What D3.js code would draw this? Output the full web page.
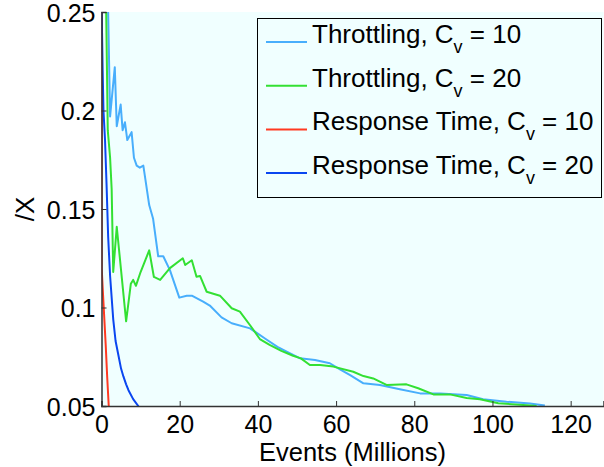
<!DOCTYPE html>
<html>
<head>
<meta charset="utf-8">
<script src="https://cdn.jsdelivr.net/npm/d3@7"></script>
<style>
  body { margin: 0; background: #fff; }
  text { font-family: "Liberation Sans", Arial, sans-serif; fill: #000; }
</style>
</head>
<body>
<div id="chart"></div>
<script>
// series: [events (millions), ratio]
var throttling10 = [[1.2,0.3],[1.7,0.25],[2.2,0.197],[3.4,0.222],[3.9,0.192],[4.9,0.203],[5.4,0.19],[6.0,0.194],
  [6.6,0.185],[7.7,0.189],[8.3,0.176],[9.0,0.172],[9.8,0.171],[10.7,0.172],[11.3,0.164],[12.2,0.152],[13.2,0.145],
  [14.5,0.126],[15.8,0.126],[17.5,0.119],[19.9,0.105],[21.8,0.106],[23.1,0.106],[26,0.103],[27.7,0.101],[30.7,0.095],
  [33.3,0.092],[38,0.0894],[42,0.084],[45,0.080],[48,0.077],[50.8,0.0742],[54.6,0.0733],[58.4,0.0717],[61,0.0686],
  [63.6,0.0657],[67,0.0615],[71.2,0.0607],[76.3,0.0585],[81.5,0.0564],[86.6,0.0564],[93.4,0.0556],[97.6,0.0534],
  [103.6,0.0522],[109.6,0.0513],[113.4,0.0502]];
var throttling20 = [[0.9,0.27],[1.2,0.25],[1.6,0.19],[2.2,0.176],[2.6,0.16],[3.0,0.118],[3.9,0.141],[6.3,0.093],
  [7.5,0.112],[8.1,0.114],[8.8,0.111],[10,0.118],[12.2,0.129],[13.4,0.1155],[15,0.114],[17.5,0.12],[20.8,0.125],
  [21.4,0.1216],[23.1,0.124],[24.3,0.1156],[25.2,0.116],[26.9,0.108],[30.3,0.106],[33.3,0.0996],[35.4,0.0979],
  [38,0.091],[40.5,0.084],[43,0.081],[46,0.078],[49,0.0755],[51,0.0742],[53.3,0.0708],[55.9,0.0708],[59.3,0.07],
  [64.4,0.0674],[67,0.0652],[69.5,0.064],[72.9,0.0607],[78,0.061],[81,0.059],[84.9,0.0559],[89.1,0.0559],
  [93.4,0.0541],[96.8,0.0534],[101.5,0.0514],[107.9,0.0505],[111.3,0.05]];
var response10 = [[0.04,0.3],[0.05,0.25],[0.05,0.12],[0.3,0.11],[0.7,0.095],[1.1,0.08],[1.45,0.065],[1.85,0.05],[1.9,0.048]];
var response20 = [[0.02,0.3],[0.05,0.25],[0.3,0.22],[0.5,0.2],[0.9,0.185],[1.3,0.162],[1.7,0.136],[2.2,0.116],
  [3.0,0.094],[3.6,0.083],[4.3,0.076],[5.0,0.069],[5.6,0.065],[6.3,0.061],[6.9,0.058],[8.1,0.0535],[9.4,0.05],[9.6,0.049]];

var seriesNames = ["Throttling", "Throttling", "Response Time", "Response Time"];
var cvValues = ["10", "20", "10", "20"];
var colors = ["#48aefc", "#33e033", "#ff3a22", "#0a46f0"];
var allSeries = [throttling10, throttling20, response10, response20];

var xTicks = [0, 20, 40, 60, 80, 100, 120];
var yTicks = [0.05, 0.1, 0.15, 0.2, 0.25];

var W = 604, H = 467;
var margin = { top: 12, right: 0.5, bottom: 61, left: 101.5 };

var svg = d3.select("#chart").append("svg")
    .attr("width", W)
    .attr("height", H);

var x = d3.scaleLinear().domain([0, 128.4]).range([margin.left, W - margin.right]);
var y = d3.scaleLinear().domain([0.05, 0.25]).range([H - margin.bottom, margin.top]);

// plot background
svg.append("rect")
    .attr("x", x(0)).attr("y", y(0.25))
    .attr("width", x(128.4) - x(0)).attr("height", y(0.05) - y(0.25))
    .attr("fill", "#f0ffff");

svg.append("clipPath").attr("id", "clip")
  .append("rect")
    .attr("x", x(0)).attr("y", y(0.25))
    .attr("width", x(128.4) - x(0)).attr("height", y(0.05) - y(0.25));

var line = d3.line()
    .x(function(d) { return x(d[0]); })
    .y(function(d) { return y(d[1]); });

var lines = svg.append("g").attr("clip-path", "url(#clip)");
allSeries.forEach(function(s, i) {
  lines.append("path")
      .datum(s)
      .attr("d", line)
      .attr("fill", "none")
      .attr("stroke", colors[i])
      .attr("stroke-width", 2)
      .attr("stroke-linejoin", "round");
});

// axes with inward ticks
var xAxis = svg.append("g")
    .attr("transform", "translate(0," + y(0.05) + ")")
    .call(d3.axisBottom(x).tickValues(xTicks).tickSize(-5).tickPadding(10).tickFormat(d3.format("d")));
var yAxis = svg.append("g")
    .attr("transform", "translate(" + x(0) + ",0)")
    .call(d3.axisLeft(y).tickValues(yTicks).tickSize(-5).tickPadding(6)
      .tickFormat(function(d) { return String(+d.toFixed(2)); }));

[xAxis, yAxis].forEach(function(a) {
  a.select(".domain").attr("stroke", "#333").attr("stroke-width", 1.5);
  a.selectAll(".tick line").attr("stroke", "#333");
  a.selectAll(".tick text")
    .style("font-family", "Liberation Sans, Arial, sans-serif")
    .style("font-size", "25px")
    .attr("fill", "#000");
});
xAxis.selectAll(".tick text").attr("dy", "0.68em");
yAxis.selectAll(".tick text").attr("dy", "0.36em");

svg.append("text")
    .attr("x", (x(0) + x(128.4)) / 2)
    .attr("y", 461)
    .attr("text-anchor", "middle")
    .style("font-size", "25.5px")
    .text("Events (Millions)");

svg.append("text")
    .attr("transform", "translate(34," + ((y(0.05) + y(0.25)) / 2) + ") rotate(-90)")
    .attr("text-anchor", "middle")
    .style("font-size", "26px")
    .text("/X");

// legend
var legend = svg.append("g");
legend.append("rect")
    .attr("x", 257.5).attr("y", 18.5)
    .attr("width", 344).attr("height", 179)
    .attr("fill", "#f0ffff")
    .attr("stroke", "#000")
    .attr("stroke-width", 1);

seriesNames.forEach(function(name, i) {
  var ly = 42 + i * 43.7;
  legend.append("line")
      .attr("x1", 266).attr("x2", 307)
      .attr("y1", ly).attr("y2", ly)
      .attr("stroke", colors[i])
      .attr("stroke-width", 2);
  var t = legend.append("text")
      .attr("x", 312)
      .attr("y", ly + 1)
      .style("font-size", "26px");
  t.append("tspan").text(name + ", C");
  t.append("tspan").attr("dy", 10).style("font-size", "18px").text("v");
  t.append("tspan").attr("dy", -10).text(" = " + cvValues[i]);
});
</script>
</body>
</html>
